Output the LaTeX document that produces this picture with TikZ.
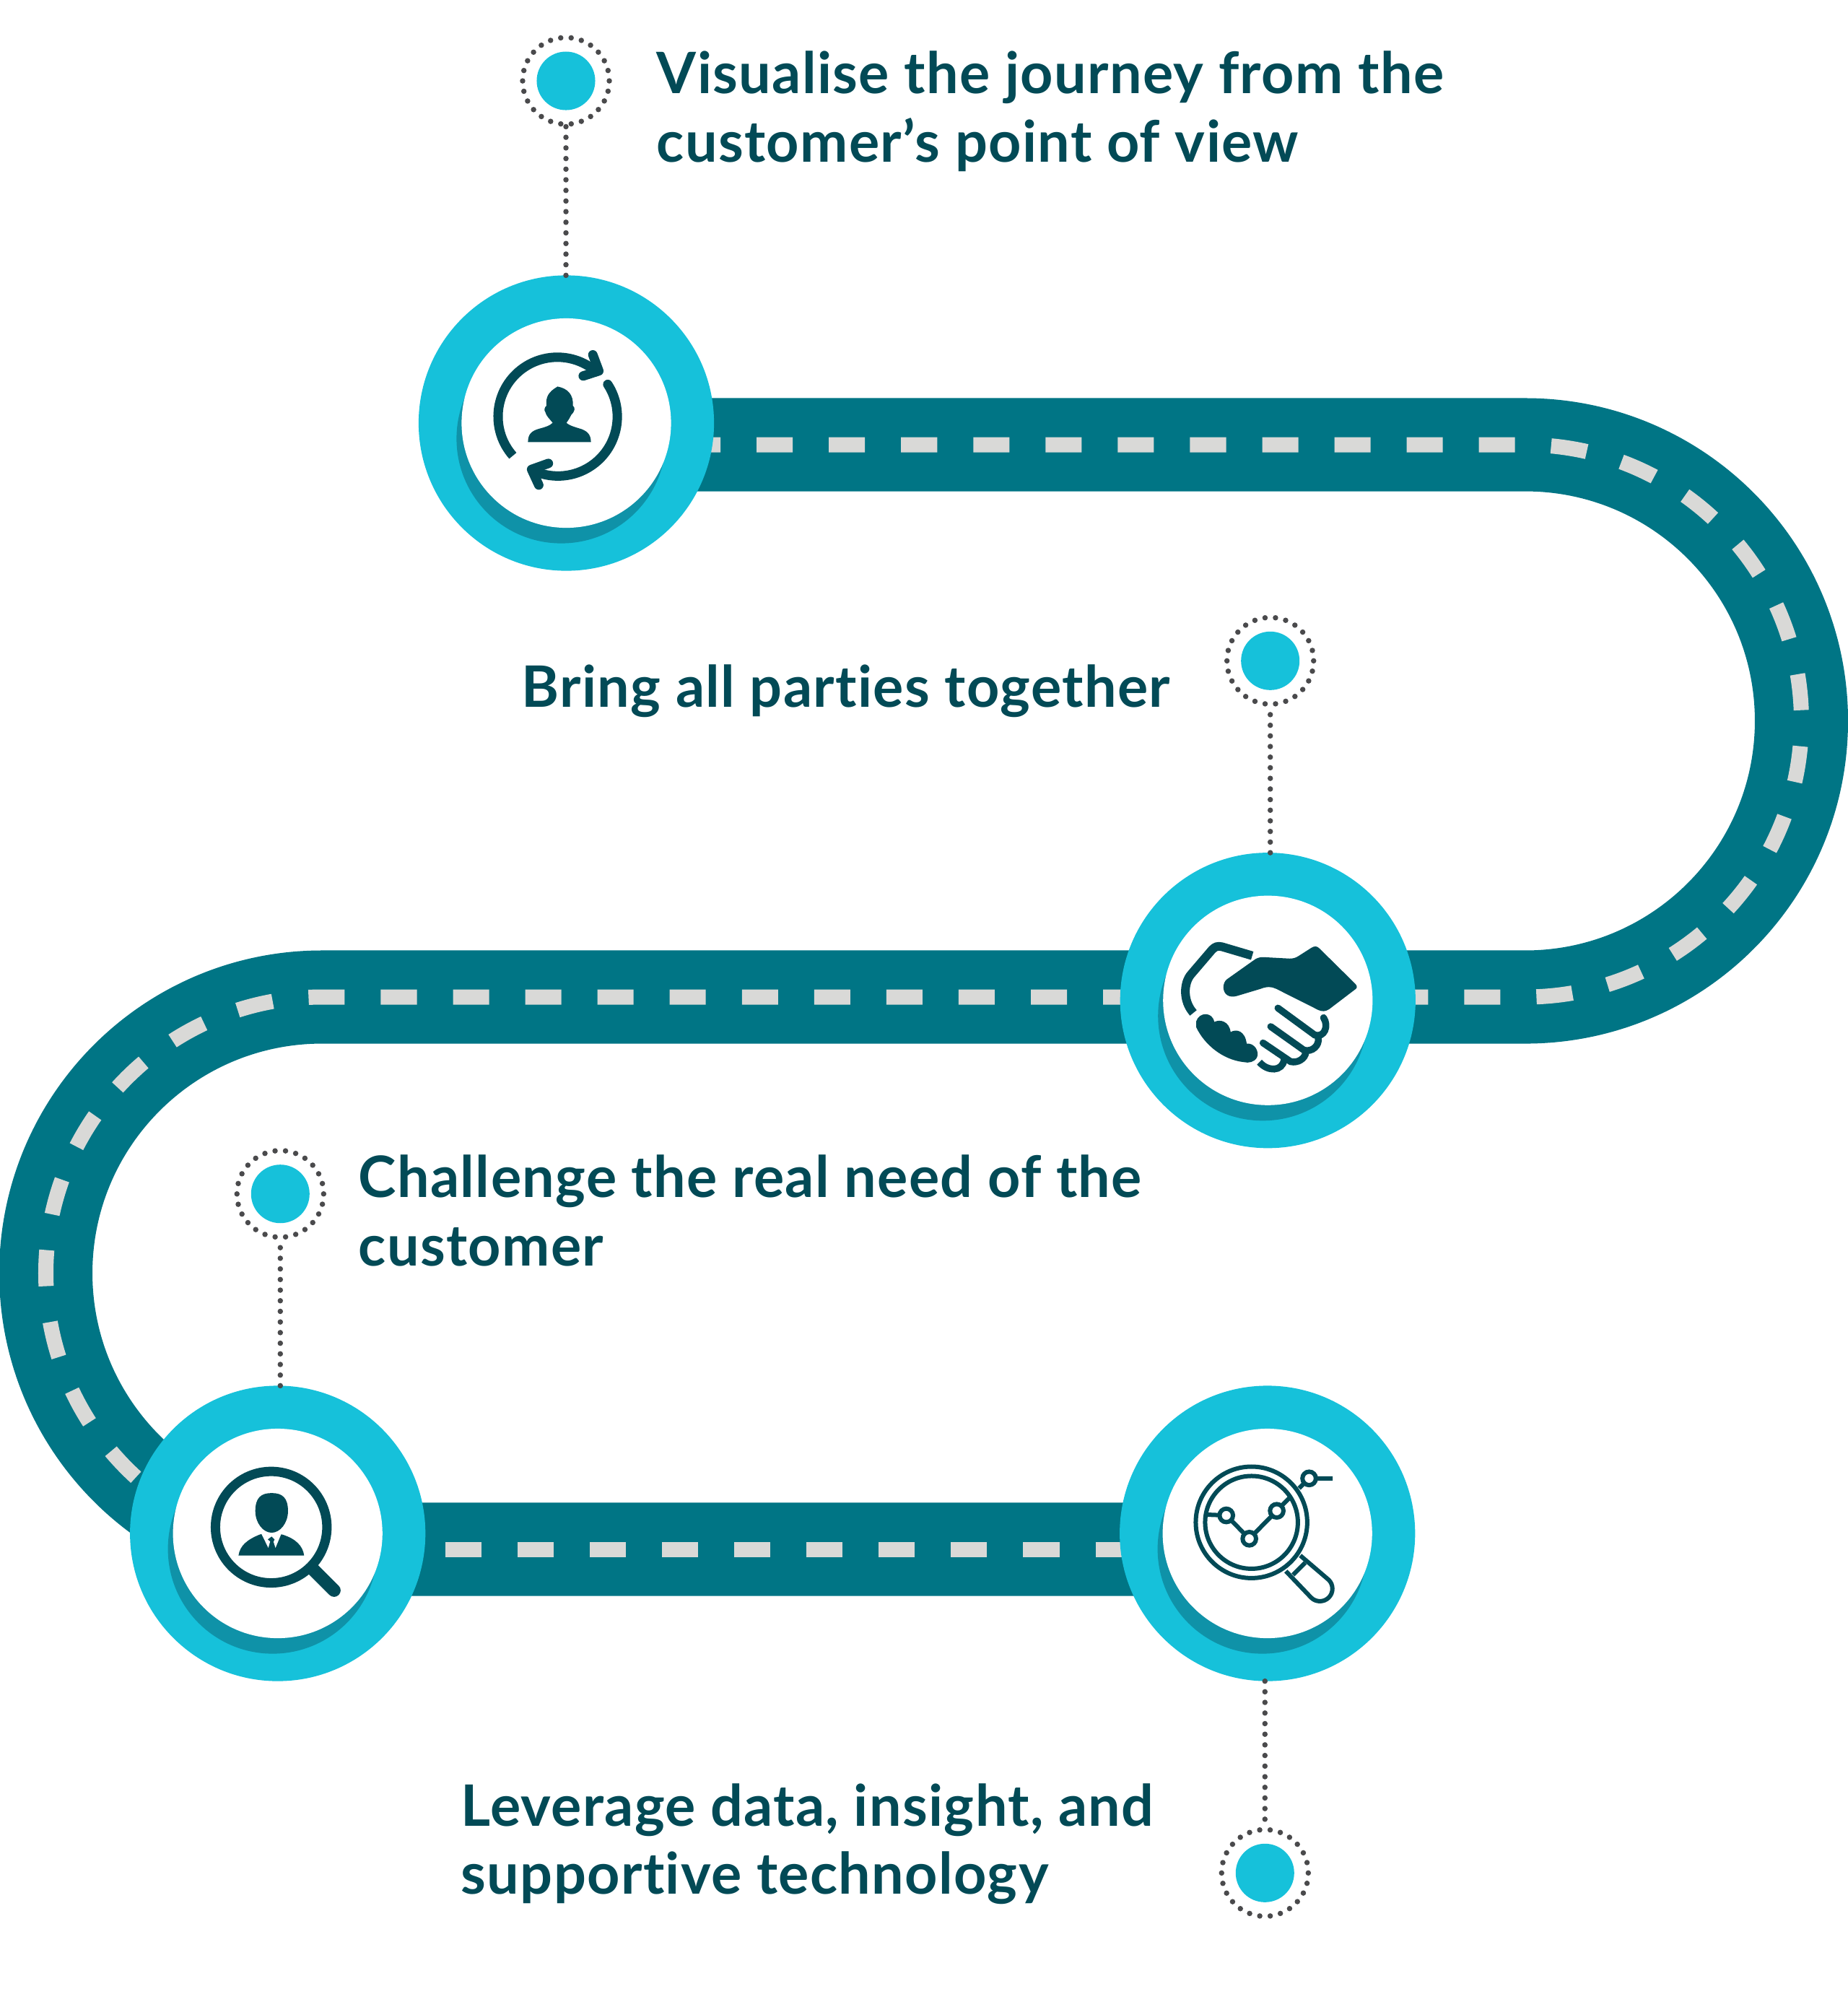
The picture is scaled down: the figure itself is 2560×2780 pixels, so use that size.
\documentclass[tikz,border=0pt]{standalone}
\usepackage{fontspec}
\setmainfont{Lato}[Ligatures=NoCommon, LetterSpace=1.7]
\definecolor{RoadTeal}{RGB}{0, 117, 133}
\definecolor{RingCyan}{RGB}{22, 193, 218}
\definecolor{RingShade}{RGB}{15, 146, 168}
\definecolor{IconTeal}{RGB}{2, 74, 86}
\definecolor{LaneGrey}{RGB}{217, 217, 215}
\definecolor{DotGrey}{RGB}{74, 74, 76}
\tikzset{
  ringdisc/.style={circle, fill=RingCyan, inner sep=0pt, outer sep=0pt, minimum size=4.09cm},
  shadedisc/.style={circle, fill=RingShade, inner sep=0pt, outer sep=0pt, minimum size=2.9cm},
  facedisc/.style={circle, fill=white, inner sep=0pt, outer sep=0pt, minimum size=2.9cm},
  markerdot/.style={circle, fill=RingCyan, inner sep=0pt, outer sep=0pt, minimum size=0.81cm},
  markerhalo/.style={circle, draw=DotGrey, line width=0.075cm, line cap=round, dash pattern=on 0pt off 0.145cm, inner sep=0pt, outer sep=0pt, minimum size=1.2cm},
  leader/.style={DotGrey, line width=0.075cm, line cap=round, dash pattern=on 0pt off 0.147cm},
  lane/.style={LaneGrey, line width=0.21cm, dash pattern=on 0.5cm off 0.5cm},
  caption/.style={IconTeal, anchor=base west, align=left, inner sep=0pt, font=\fontsize{22.5pt}{26.74pt}\selectfont\bfseries},
  zoomed/.style 2 args={shift={(#1,#2)}, x=0.003333cm, y=-0.003333cm},
  iconline/.style={draw=IconTeal, line width=#1, fill=none},
  iconline/.default=0.13cm
}

\begin{document}
\begin{tikzpicture}[x=0.01cm, y=-0.01cm]
  \useasboundingbox (0,0) rectangle (2560,2780);

  % Road
  \draw[RoadTeal, line width=1.29cm] (784,616) -- (2113,616) arc[start angle=-90, end angle=90, radius=382.5]
    -- (446,1381) arc[start angle=-90, end angle=-270, radius=382.5] -- (1756,2146);
  \draw[lane] (848,616) -- (2113,616) arc[start angle=-90, end angle=90, radius=382.5]
    -- (446,1381) arc[start angle=-90, end angle=-270, radius=382.5];
  \draw[lane] (617,2146) -- (1756,2146);

  % Rings
  \foreach \i/\ringx/\ringy in {1/784.5/586, 2/1756.3/1385.7, 3/384.7/2124, 4/1755.7/2124} {
    \node[ringdisc] (ring\i) at (\ringx,\ringy) {};
    \node[shadedisc, xshift=-0.07cm, yshift=-0.215cm] (shade\i) at (ring\i) {};
    \node[facedisc] (face\i) at (ring\i) {};
  }

  % Markers
  \foreach \i/\dotx/\doty in {1/784/112, 2/1759.7/915.3, 3/388.3/1653.7, 4/1752.3/2594.3} {
    \node[markerdot] (dot\i) at (\dotx,\doty) {};
    \node[markerhalo] (halo\i) at (dot\i) {};
  }
  \draw[leader] (halo1 |- ring1.north) -- (halo1);
  \draw[leader] (halo2 |- ring2.north) -- (halo2);
  \draw[leader] (halo3 |- ring3.north) -- (halo3);
  \draw[leader] (halo4 |- ring4.south) -- (halo4);

  % Captions
  \node[caption] (visualise) at (909,224) {Visualise the journey from the\\customer’s point of view};
  \node[caption] (bring) at (722,979) {Bring all parties together};
  \node[caption] (challenge) at (496,1753) {Challenge the real need of the\\customer};
  \node[caption] (leverage) at (638,2623) {Leverage data, insight, and\\supportive technology};

  % Icon: person with arrows
  \begin{scope}[zoomed={560}{360}]
    \draw[iconline] (452,815) arc[start angle=138.7, end angle=310, radius=247];
    \draw[iconline, line cap=round, line join=round] (785,395) -- (810,462) -- (745,483);
    \draw[iconline, line cap=round] (847,518) arc[start angle=-33, end angle=112, radius=247];
    \draw[iconline, line cap=round, line join=round] (600,847) -- (530,872) -- (560,937);
    \fill[IconTeal] (515,758) .. controls (515,725) and (530,712) .. (560,703) .. controls (590,695) and (605,690) .. (618,678)
      .. controls (605,662) and (590,648) .. (588,635) .. controls (580,625) and (585,612) .. (592,607)
      .. controls (588,570) and (600,550) .. (638,527) .. controls (680,535) and (705,560) .. (702,607)
      .. controls (712,615) and (712,628) .. (695,645) .. controls (690,655) and (685,665) .. (675,678)
      .. controls (690,692) and (720,698) .. (740,705) .. controls (765,715) and (777,730) .. (777,758) -- cycle;
  \end{scope}

  % Icon: handshake
  \begin{scope}[zoomed={1530}{1170}]
    \fill[IconTeal] (510,560) -- (620,482) .. controls (632,472) and (645,468) .. (660,468) -- (770,474)
      .. controls (785,474) and (795,472) .. (810,462) -- (860,430) .. controls (875,420) and (885,422) .. (895,432)
      -- (1045,580) .. controls (1054,590) and (1052,598) .. (1040,605) -- (935,685) .. controls (920,695) and (905,695) .. (890,688)
      -- (715,600) .. controls (695,590) and (675,590) .. (650,600) -- (550,630) .. controls (520,638) and (497,625) .. (495,595)
      .. controls (495,580) and (500,568) .. (510,560) -- cycle;
    \draw[iconline=0.12cm] (615,462) -- (490,425) .. controls (470,420) and (460,425) .. (448,437) -- (360,540)
      .. controls (330,575) and (325,650) .. (370,700);
    \fill[IconTeal] (382,735) .. controls (395,695) and (450,695) .. (457,738) .. controls (480,725) and (520,735) .. (525,780)
      .. controls (550,765) and (585,775) .. (592,828) .. controls (625,825) and (645,860) .. (635,885)
      .. controls (625,905) and (600,910) .. (580,905) .. controls (490,895) and (415,830) .. (382,760) -- cycle;
    \draw[iconline=0.095cm, line cap=round] (722,680) -- (875,792) .. controls (915,805) and (935,755) .. (912,720);
    \draw[iconline=0.095cm, line cap=round] (692,757) -- (830,855) .. controls (865,865) and (895,835) .. (890,805);
    \draw[iconline=0.095cm, line cap=round] (660,825) -- (775,903) .. controls (805,910) and (835,890) .. (838,865);
    \draw[iconline=0.095cm] (645,905) .. controls (680,945) and (740,945) .. (748,895);
  \end{scope}

  % Icon: person under lens
  \begin{scope}[zoomed={170}{1910}]
    \draw[iconline] (618,617) circle[radius=232];
    \draw[iconline=0.18cm, line cap=round] (795,795) -- (880,880);
    \fill[IconTeal] (620,475) .. controls (665,475) and (688,495) .. (688,550) .. controls (688,600) and (655,640) .. (620,640)
      .. controls (585,640) and (552,600) .. (552,550) .. controls (552,495) and (575,475) .. (620,475) -- cycle;
    \fill[IconTeal] (482,735) .. controls (488,695) and (515,670) .. (572,647) -- (620,640) -- (665,648)
      .. controls (720,665) and (750,695) .. (755,735) -- cycle;
    \fill[white] (575,640) -- (606,703) -- (620,655) -- (636,703) -- (662,640) -- cycle;
    \fill[IconTeal] (604,668) -- (620,656) -- (632,668) -- (627,678) -- (632,703) -- (611,703) -- (616,678) -- cycle;
  \end{scope}

  % Icon: chart under lens
  \begin{scope}[zoomed={1530}{1910}]
    \draw[iconline=0.06cm] (612,597) circle[radius=232];
    \draw[iconline=0.06cm] (612,597) circle[radius=193];
    \draw[iconline=0.06cm] (755,800) -- (860,910) arc[start angle=135, end angle=-45, radius=52] -- (815,735);
    \draw[iconline=0.06cm] (785,815) -- (835,765);
    \draw[iconline=0.06cm] (430,565) -- (507,568) -- (603,665) -- (717,549) -- (770,495);
    \draw[iconline=0.06cm] (810,455) -- (852,414) -- (950,414);
    \foreach \chartx/\charty in {507/568, 603/665, 717/549, 852/414}
      \draw[IconTeal, line width=0.06cm, fill=white] (\chartx,\charty) circle[radius=28];
  \end{scope}
\end{tikzpicture}
\end{document}
